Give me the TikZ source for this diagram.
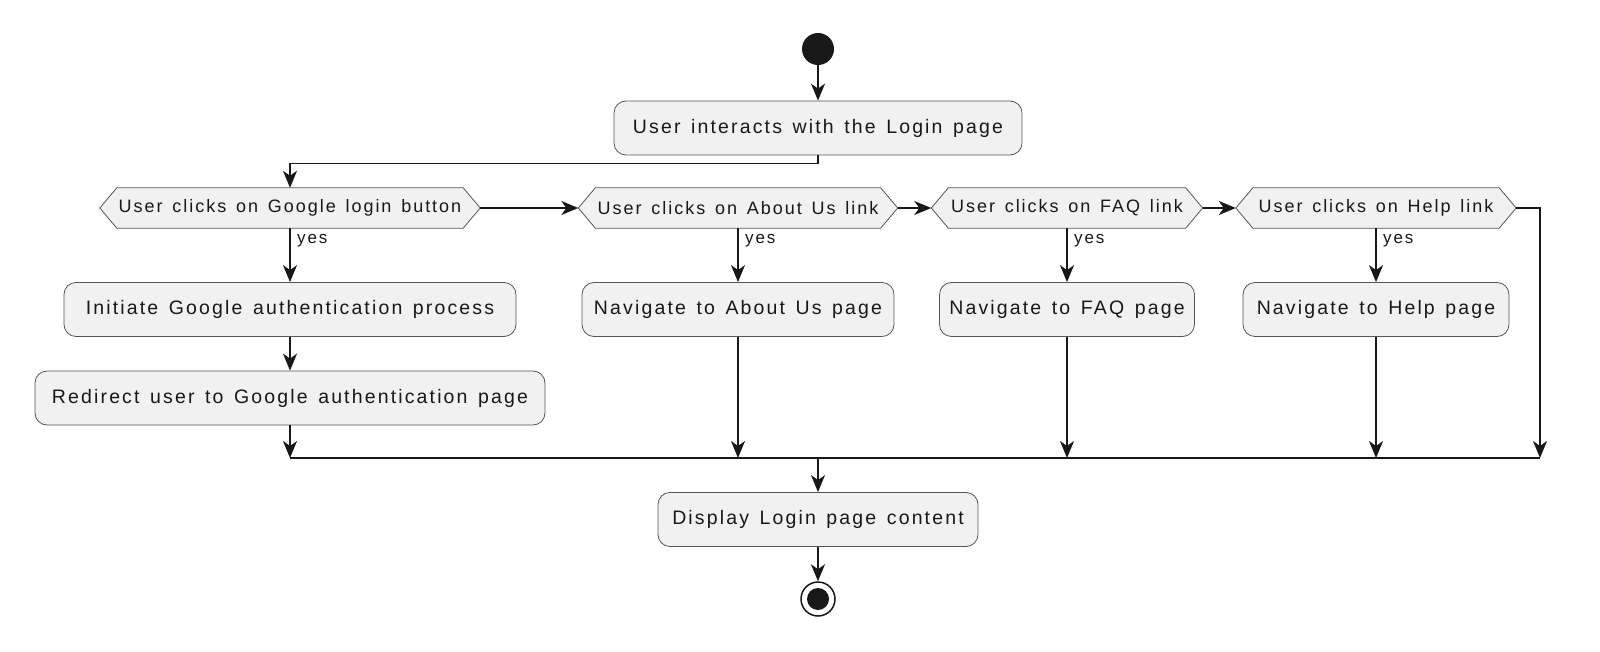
\documentclass[tikz,border=0pt]{standalone}
\usepackage{fontspec}
\setmainfont{Liberation Sans}[LetterSpace=11,WordSpace=1.4]
\usetikzlibrary{arrows.meta,backgrounds}
\definecolor{boxfill}{HTML}{F1F1F1}
\definecolor{ink}{HTML}{181818}
\definecolor{edge}{HTML}{555555}
\tikzset{
  actbox/.style={draw=edge, line width=0.8pt, fill=boxfill, rounded corners=12pt,
    minimum height=54pt, inner sep=0pt, font=\fontsize{19.5pt}{22pt}\selectfont, text=ink},
  hextext/.style={inner sep=0pt, minimum height=40pt, font=\fontsize{18pt}{21pt}\selectfont, text=ink},
  hexline/.style={draw=edge, line width=0.8pt, fill=boxfill},
  arr/.style={draw=ink, line width=1.6pt, -{Stealth[length=17pt,width=14pt,inset=5pt]}},
  plain/.style={draw=ink, line width=1.6pt},
  yeslab/.style={inner sep=0pt, anchor=west, font=\fontsize{17pt}{20pt}\selectfont, text=ink},
}
\newcommand\hexdec[5]{%
  \node[hextext, minimum width=#4] (#1) at (#2,#3) {#5};
  \path (#1.west) ++(-17,0) coordinate (#1w) (#1.east) ++(17,0) coordinate (#1e);
  \begin{scope}[on background layer]
    \draw[hexline] (#1.north west) -- (#1.north east) -- (#1e) -- (#1.south east)
      -- (#1.south west) -- (#1w) -- cycle;
  \end{scope}}
\begin{document}
\begin{tikzpicture}[x=1pt,y=-1pt]
\useasboundingbox (0,0) rectangle (1600,652);
% start
\node[circle, fill=ink, minimum size=32pt, inner sep=0pt] (start) at (818,49) {};
\node[actbox, minimum width=408pt] (u) at (818,128) {User interacts with the Login page};
% decisions
\hexdec{d1}{290}{208}{346pt}{User clicks on Google login button}
\hexdec{d2}{738}{208}{285pt}{User clicks on About Us link}
\hexdec{d3}{1067}{208}{237pt}{User clicks on FAQ link}
\hexdec{d4}{1376}{208}{246pt}{User clicks on Help link}
% actions
\node[actbox, minimum width=452pt] (g1) at (290,309.5) {Initiate Google authentication process};
\node[actbox, minimum width=510pt] (g2) at (290,398) {Redirect user to Google authentication page};
\node[actbox, minimum width=312pt] (a) at (738,309.5) {Navigate to About Us page};
\node[actbox, minimum width=255pt] (f) at (1067,309.5) {Navigate to FAQ page};
\node[actbox, minimum width=266pt] (h) at (1376,309.5) {Navigate to Help page};
\node[actbox, minimum width=320pt] (disp) at (818,519.5) {Display Login page content};
% end
\node[circle, draw=ink, line width=1.5pt, fill=white, minimum size=34pt, inner sep=0pt] (end) at (818,599) {};
\node[circle, fill=ink, minimum size=22pt, inner sep=0pt] (endin) at (818,599) {};
% merge coordinates
\coordinate (m1) at (290,458);
\coordinate (m2) at (738,458);
\coordinate (m3) at (1067,458);
\coordinate (m4) at (1376,458);
\coordinate (m5) at (1540,458);
\coordinate (mc) at (818,458);
% yes labels
\node[yeslab] (y1) at (297,240.5) {yes};
\node[yeslab] (y2) at (745,240.5) {yes};
\node[yeslab] (y3) at (1074,240.5) {yes};
\node[yeslab] (y4) at (1383,240.5) {yes};
% connectors
\draw[arr] (start) -- (u);
\draw[arr] (u.south) -- ++(0,8) -| (d1.north);
\draw[arr] (d1e) -- (d2w);
\draw[arr] (d2e) -- (d3w);
\draw[arr] (d3e) -- (d4w);
\draw[arr] (d4e) -| (m5);
\draw[arr] (d1.south) -- (g1.north);
\draw[arr] (g1) -- (g2);
\draw[arr] (g2.south) -- (m1);
\draw[arr] (d2.south) -- (a.north);
\draw[arr] (a.south) -- (m2);
\draw[arr] (d3.south) -- (f.north);
\draw[arr] (f.south) -- (m3);
\draw[arr] (d4.south) -- (h.north);
\draw[arr] (h.south) -- (m4);
\draw[plain] (m1) -- (m5);
\draw[arr] (mc) -- (disp.north);
\draw[arr] (disp) -- (end);
\end{tikzpicture}
\end{document}
